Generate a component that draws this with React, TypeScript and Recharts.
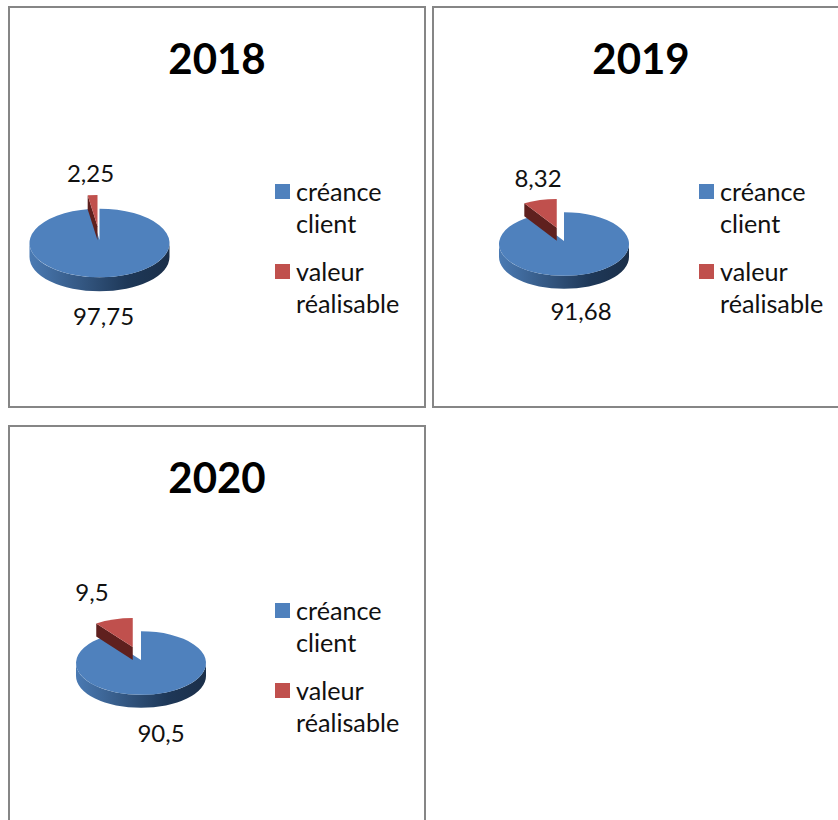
import React from 'react';
import { PieChart, Pie, Cell, Legend } from 'recharts';

const seriesNames = ['créance client', 'valeur réalisable'];
const seriesColors = ['#4f81bd', '#c0504d'];
const values2018 = [97.75, 2.25];
const values2019 = [91.68, 8.32];
const values2020 = [90.5, 9.5];

const SQUASH = 0.49;
const DEPTH = 0.2;
const EXPLODE = 28;
const APEX_LIFT = 3;
const RAD = Math.PI / 180;

// each panel places its pie and its hand-moved labels on its own
const panels = [
  { title: '2018', values: values2018, left: 8, top: 6, cx: 89.5, cy: 235, r: 70, blueDx: 4, blueDy: 72, redDx: -9, redDy: -71 },
  { title: '2019', values: values2019, left: 432, top: 6, cx: 130, cy: 236, r: 65, blueDx: 17, blueDy: 66, redDx: -26, redDy: -67 },
  { title: '2020', values: values2020, left: 8, top: 425, cx: 131, cy: 236, r: 65, blueDx: 20, blueDy: 69, redDx: -49, redDy: -72 },
];

const point = (cx: number, cy: number, rx: number, ry: number, a: number) => ({
  x: cx + rx * Math.cos(a * RAD),
  y: cy - ry * Math.sin(a * RAD),
});

// recharts hands over the angles, the slice is drawn flattened with a side wall
const Slice3D = (props: any) => {
  const { cx, cy, outerRadius, startAngle, endAngle, fill, index } = props;
  const rx = outerRadius;
  const ry = outerRadius * SQUASH;
  const depth = outerRadius * DEPTH;
  const mid = (startAngle + endAngle) / 2;
  const ox = index === 1 ? EXPLODE * Math.cos(mid * RAD) : 0;
  const oy = index === 1 ? -EXPLODE * SQUASH * Math.sin(mid * RAD) : 0;
  const x0 = cx + ox;
  const y0 = cy + oy;
  const a = point(x0, y0, rx, ry, startAngle);
  const b = point(x0, y0, rx, ry, endAngle);
  const large = Math.abs(startAngle - endAngle) > 180 ? 1 : 0;
  const apexY = y0 - APEX_LIFT;
  const top = `M${x0},${apexY} L${a.x},${a.y} A${rx},${ry} 0 ${large} 1 ${b.x},${b.y} Z`;

  if (index === 0) {
    const wall = `M${x0 + rx},${y0} A${rx},${ry} 0 0 1 ${x0 - rx},${y0} L${x0 - rx},${y0 + depth} A${rx},${ry} 0 0 0 ${x0 + rx},${y0 + depth} Z`;
    const gradId = `wall${Math.round(cx)}${rx}`;
    return (
      <g>
        <defs>
          <linearGradient id={gradId} x1="0" y1="0" x2="1" y2="0">
            <stop offset="0%" stopColor="#4a7ab3" />
            <stop offset="45%" stopColor="#2f5078" />
            <stop offset="70%" stopColor="#1e3858" />
            <stop offset="100%" stopColor="#1b2f49" />
          </linearGradient>
        </defs>
        <path d={wall} fill={`url(#${gradId})`} />
        <path d={top} fill={fill} />
      </g>
    );
  }
  const cut = `M${x0},${apexY} L${a.x},${a.y} L${a.x},${a.y + depth} L${x0},${apexY + depth} Z`;
  return (
    <g>
      <path d={cut} fill="#5f201e" />
      <path d={top} fill={fill} />
    </g>
  );
};

const LegendBox = ({ payload }: any) => (
  <div style={{ fontFamily: 'Lato', fontSize: 25.2, lineHeight: '32px', color: '#111' }}>
    {(payload || []).map((p: any) => (
      <div key={p.value} style={{ position: 'relative', paddingLeft: 21, marginBottom: 16 }}>
        <span style={{ position: 'absolute', left: 0, top: 9, width: 15, height: 15, background: p.color }} />
        {p.value}
      </div>
    ))}
  </div>
);

const Panel = ({ panel }: { panel: (typeof panels)[number] }) => {
  const data = seriesNames.map((name, i) => ({ name, value: panel.values[i] }));
  const renderLabel = (p: any) => {
    const dx = p.index === 0 ? panel.blueDx : panel.redDx;
    const dy = p.index === 0 ? panel.blueDy : panel.redDy;
    return (
      <text x={p.cx + dx} y={p.cy + dy} textAnchor="middle" dominantBaseline="central" fontFamily="Lato" fontSize={24} fill="#111">
        {String(p.value).replace('.', ',')}
      </text>
    );
  };
  return (
    <div
      style={{
        position: 'absolute',
        left: panel.left,
        top: panel.top,
        width: 418,
        height: 402,
        boxSizing: 'border-box',
        border: '2px solid #868686',
        background: '#fff',
      }}
    >
      <div
        style={{
          position: 'absolute',
          left: 0,
          width: 414,
          top: 25,
          textAlign: 'center',
          fontFamily: 'Lato',
          fontWeight: 700,
          fontSize: 42,
          lineHeight: '50px',
          color: '#000',
        }}
      >
        {panel.title}
      </div>
      <PieChart
        width={414}
        height={398}
        margin={{ top: 0, right: 0, bottom: 0, left: 0 }}
        style={{ position: 'absolute', left: 0, top: 0 }}
      >
        <Pie
          data={data}
          dataKey="value"
          nameKey="name"
          cx={panel.cx}
          cy={panel.cy}
          outerRadius={panel.r}
          startAngle={90}
          endAngle={-270}
          paddingAngle={0}
          stroke="none"
          shape={Slice3D}
          label={renderLabel}
          labelLine={false}
          isAnimationActive={false}
        >
          {data.map((d, i) => (
            <Cell key={d.name} fill={seriesColors[i]} />
          ))}
        </Pie>
        <Legend
          layout="vertical"
          align="right"
          verticalAlign="top"
          content={<LegendBox />}
          wrapperStyle={{ left: 265, top: 167, width: 140, right: 'auto', bottom: 'auto' }}
        />
      </PieChart>
    </div>
  );
};

export default function App() {
  return (
    <div style={{ position: 'absolute', left: 0, top: 0, width: 838, height: 820, overflow: 'hidden', background: '#fff' }}>
      {panels.map((panel) => (
        <Panel key={panel.title} panel={panel} />
      ))}
    </div>
  );
}
